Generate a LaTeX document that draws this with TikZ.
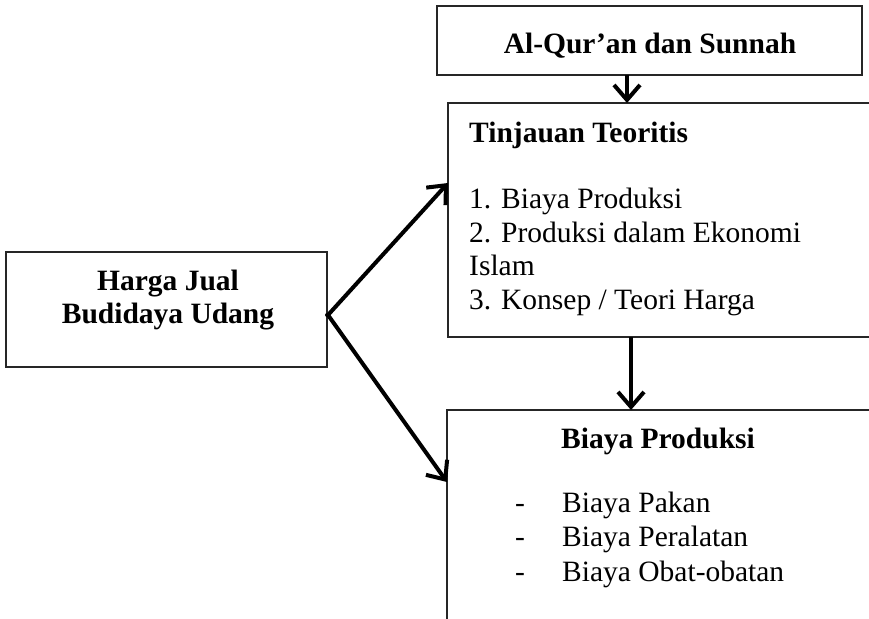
\documentclass[tikz,border=0pt]{standalone}
\usepackage{fontspec}
\setmainfont{Liberation Serif}
\usetikzlibrary{arrows.meta}
\begin{document}
\begin{tikzpicture}[x=1pt,y=-1pt,
  box/.style={draw=black!85,line width=1.6pt,anchor=north west,inner sep=0pt,outer sep=0pt},
  arr/.style={line width=4pt,-{Straight Barb[length=15pt,width=26pt,line width=4pt]}},
  txt/.style={inner sep=0pt,font=\fontsize{29.5}{33.5}\selectfont},
  btxt/.style={txt,font=\fontsize{29.5}{33.5}\selectfont\bfseries}]
\useasboundingbox (0,0) rectangle (869,618);
\clip (0,0) rectangle (869,618);
% boxes
\node[box,minimum width=425pt,minimum height=69pt] (qs) at (437,6) {};
\node[box,minimum width=460pt,minimum height=234pt] (tin) at (448,103) {};
\node[box,minimum width=460pt,minimum height=300pt] (bp) at (447,410) {};
\node[box,minimum width=321pt,minimum height=115pt] (hj) at (6,252) {};
% texts
\node[btxt,anchor=base] (t1) at (650,53) {Al-Qur’an dan Sunnah};
\node[btxt,anchor=base west] (t2) at (469,142) {Tinjauan Teoritis};
\node[txt,anchor=base west] (t3) at (469,208) {1. Biaya Produksi};
\node[txt,anchor=base west] (t4) at (469,242) {2. Produksi dalam Ekonomi};
\node[txt,anchor=base west] (t5) at (469,275) {Islam};
\node[txt,anchor=base west] (t6) at (469,309) {3. Konsep / Teori Harga};
\node[btxt,anchor=base] (t7) at (168,290) {Harga Jual};
\node[btxt,anchor=base] (t8) at (168,323) {Budidaya Udang};
\node[btxt,anchor=base] (t9) at (658,448) {Biaya Produksi};
\node[txt,anchor=base west] (d1) at (515,512) {-};
\node[txt,anchor=base west] (d2) at (515,546) {-};
\node[txt,anchor=base west] (d3) at (515,581) {-};
\node[txt,anchor=base west] (b1) at (562,512) {Biaya Pakan};
\node[txt,anchor=base west] (b2) at (562,546) {Biaya Peralatan};
\node[txt,anchor=base west] (b3) at (562,581) {Biaya Obat-obatan};
% connectors
\coordinate (v) at (328,315);
\draw[arr] (qs.south -| 627,0) -- (tin.north -| 627,0);
\draw[arr] (tin.south -| 631,0) -- (bp.north -| 631,0);
\draw[arr,-,line cap=round] (hj.east |- v) -- (v);
\draw[arr] (v) -- (tin.west |- 0,183);
\draw[arr] (v) -- (bp.west |- 0,482);
\end{tikzpicture}
\end{document}
